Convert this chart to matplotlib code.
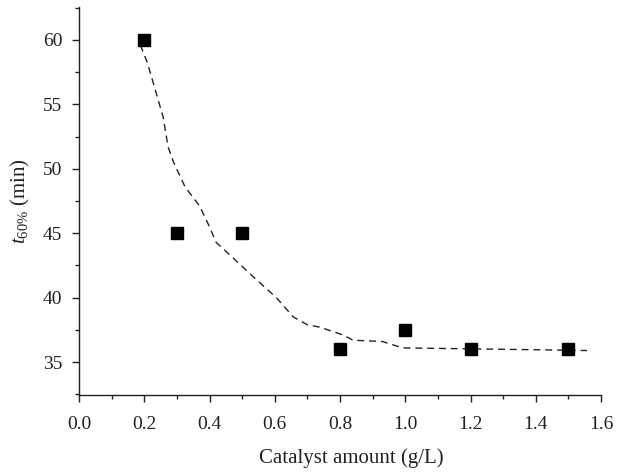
import matplotlib
matplotlib.use("Agg")
import matplotlib.pyplot as plt
from matplotlib.ticker import MultipleLocator

# data points
x_pts = [0.2, 0.3, 0.5, 0.8, 1.0, 1.2, 1.5]
y_pts = [60, 45, 45, 36, 37.5, 36, 36]

# fitted dashed curve
x_fit = [0.188, 0.21, 0.258, 0.273, 0.29, 0.325, 0.37, 0.40, 0.42, 0.48, 0.535,
         0.605, 0.657, 0.70, 0.74, 0.81, 0.84, 0.93, 0.98, 1.0, 1.29, 1.557]
y_fit = [59.6, 58.2, 54.0, 51.7, 50.5, 48.6, 47.1, 45.5, 44.3, 42.9, 41.6,
         40.0, 38.5, 37.9, 37.7, 37.1, 36.7, 36.6, 36.2, 36.1, 36.0, 35.9]

x_ticks = [0.0, 0.2, 0.4, 0.6, 0.8, 1.0, 1.2, 1.4, 1.6]
x_ticklabels = ['0.0', '0.2', '0.4', '0.6', '0.8', '1.0', '1.2', '1.4', '1.6']
y_ticks = [35, 40, 45, 50, 55, 60]

plt.rcParams['font.family'] = ['Liberation Serif', 'DejaVu Serif']
plt.rcParams['mathtext.fontset'] = 'custom'
plt.rcParams['mathtext.rm'] = 'Liberation Serif'
plt.rcParams['mathtext.it'] = 'Liberation Serif:italic'

fig = plt.figure(figsize=(6.3, 4.73), dpi=100)
ax = fig.add_axes([0.1254, 0.1649, 0.8286, 0.8203])

ax.plot(x_fit, y_fit, linestyle=(0, (5, 3.5)), color='#222222', linewidth=1.0)
ax.plot(x_pts, y_pts, linestyle='none', marker='s', markersize=8.5, color='black')

ax.set_xlim(0, 1.6)
ax.set_ylim(32.45, 62.55)
ax.xaxis.set_minor_locator(MultipleLocator(0.1))
ax.yaxis.set_minor_locator(MultipleLocator(2.5))
ax.set_yticks(y_ticks)
ax.set_xticks(x_ticks)
ax.set_xticklabels(x_ticklabels)

ax.spines['top'].set_visible(False)
ax.spines['right'].set_visible(False)
for s in ('left', 'bottom'):
    ax.spines[s].set_linewidth(1.0)
    ax.spines[s].set_color('#222222')

ax.tick_params(which='major', direction='out', length=5, width=1.0, labelsize=14,
               colors='#222222')
ax.tick_params(axis='x', which='major', pad=10)
ax.tick_params(axis='y', which='major', pad=7)
ax.tick_params(which='minor', direction='out', length=3, width=1.0, colors='#222222')

ax.set_xlabel('Catalyst amount (g/L)', fontsize=15, color='#222222', va='baseline')
ax.xaxis.set_label_coords(0.521, -0.175)
ax.set_ylabel(r'$t_{60\%}$ (min)', fontsize=15, color='#222222', labelpad=8)

fig.savefig('out.png', dpi=100)
